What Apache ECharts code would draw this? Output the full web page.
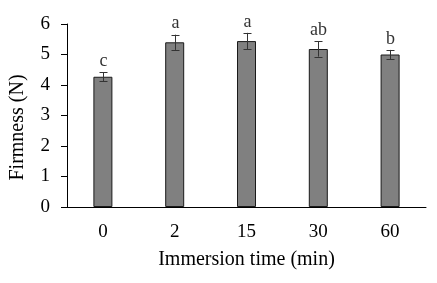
<!DOCTYPE html>
<html><head><meta charset="utf-8">
<script src="https://cdn.jsdelivr.net/npm/echarts@6/dist/echarts.min.js"></script>
<style>html,body{margin:0;padding:0;background:#fff}#c{width:437px;height:283px}</style>
</head><body><div id="c"></div>
<script>
var categories = ['0', '2', '15', '30', '60'];
var firmness = [4.27, 5.40, 5.44, 5.18, 5.00];
var errors = [0.14, 0.25, 0.27, 0.25, 0.15];
var letters = ['c', 'a', 'a', 'ab', 'b'];
var yTicks = [0, 1, 2, 3, 4, 5, 6];

var font = '"Liberation Serif", "Times New Roman", serif';
var chart = echarts.init(document.getElementById('c'), null, {renderer: 'canvas'});
var errData = categories.map(function (c, i) { return [i, firmness[i], errors[i], letters[i]]; });

chart.setOption({
  animation: false,
  grid: {left: 61, right: 11, top: 24, bottom: 76, containLabel: false},
  xAxis: {
    type: 'category', data: categories,
    axisLine: {lineStyle: {color: '#000', width: 1}},
    axisTick: {show: false},
    axisLabel: {color: '#000', fontFamily: font, fontSize: 19, margin: 16},
    name: 'Immersion time (min)', nameLocation: 'middle', nameGap: 43,
    nameTextStyle: {color: '#000', fontFamily: font, fontSize: 20}
  },
  yAxis: {
    type: 'value', min: yTicks[0], max: yTicks[yTicks.length - 1], interval: 1,
    axisLine: {show: true, lineStyle: {color: '#000', width: 1}},
    axisTick: {show: true, length: 6, lineStyle: {color: '#000'}},
    splitLine: {show: false},
    axisLabel: {color: '#000', fontFamily: font, fontSize: 19, margin: 17},
    name: 'Firmness (N)', nameLocation: 'middle', nameGap: 39, nameRotate: 90,
    nameTextStyle: {color: '#000', fontFamily: font, fontSize: 20, padding: [0, 24, 0, 0]}
  },
  series: [
    {
      type: 'bar', data: firmness, barWidth: 19,
      itemStyle: {color: '#808080', borderColor: '#1a1a1a', borderWidth: 1}
    },
    {
      type: 'custom', data: errData, z: 10,
      renderItem: function (params, api) {
        var x = api.value(0), v = api.value(1), e = api.value(2);
        var top = api.coord([x, v + e]);
        var bot = api.coord([x, v - e]);
        var cx = Math.round(top[0]) + 0.5;
        var hw = 4;
        var st = {stroke: '#333', lineWidth: 1};
        return {
          type: 'group',
          children: [
            {type: 'line', shape: {x1: cx, y1: top[1], x2: cx, y2: bot[1]}, style: st},
            {type: 'line', shape: {x1: cx - hw, y1: Math.round(top[1]) + 0.5, x2: cx + hw, y2: Math.round(top[1]) + 0.5}, style: st},
            {type: 'line', shape: {x1: cx - hw, y1: Math.round(bot[1]) + 0.5, x2: cx + hw, y2: Math.round(bot[1]) + 0.5}, style: st},
            {type: 'text', style: {x: cx, y: top[1] - 2, text: letters[params.dataIndex], textAlign: 'center', textVerticalAlign: 'bottom', fontFamily: font, fontSize: 18, fill: '#333'}}
          ]
        };
      }
    }
  ]
});
</script></body></html>
